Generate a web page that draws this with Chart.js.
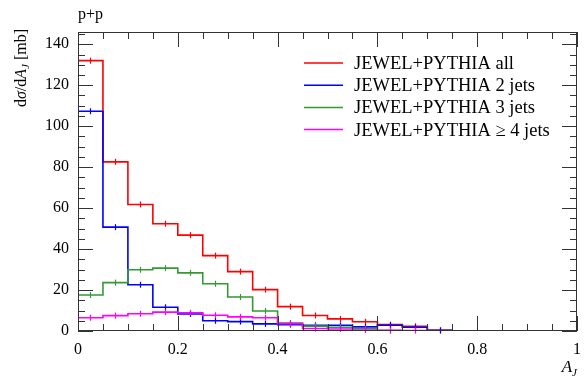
<!DOCTYPE html>
<html>
<head>
<meta charset="utf-8">
<script src="https://cdn.jsdelivr.net/npm/chart.js@4/dist/chart.umd.min.js"></script>
<style>
  html, body { margin: 0; padding: 0; background: #fff; }
  #wrap { width: 584px; height: 378px; }
</style>
</head>
<body>
<div id="wrap"><canvas id="chart" width="584" height="378"></canvas></div>
<script>
// bin edges of the A_J histogram
const binEdges = [0, 0.05, 0.1, 0.15, 0.2, 0.25, 0.3, 0.35, 0.4, 0.45, 0.5,
                  0.55, 0.6, 0.65, 0.7, 0.75, 0.8, 0.85, 0.9, 0.95, 1];

// dsigma/dA_J [mb] per bin
const allJets   = [132, 82.6, 61.8, 52.4, 46.8, 36.8, 29.0, 20.2, 11.9, 7.6,
                   5.9, 4.5, 3.1, 2.3, 0.3, 0, 0, 0, 0, 0];
const twoJets   = [107.3, 50.7, 22.6, 11.6, 8.3, 5.0, 4.6, 3.5, 3.1, 2.8,
                   2.8, 2.0, 2.8, 1.8, 0.3, 0, 0, 0, 0, 0];
const threeJets = [17.6, 23.6, 29.9, 30.7, 28.4, 23.1, 16.6, 9.8, 3.9, 2.4,
                   1.8, 1.2, 0.2, 0, 0, 0, 0, 0, 0, 0];
const fourJets  = [6.5, 7.5, 8.4, 9.2, 8.9, 7.7, 6.9, 6.5, 3.6, 1.2,
                   1.0, 0.5, 0.3, 0.2, 0, 0, 0, 0, 0, 0];

const seriesNames = ['JEWEL+PYTHIA all', 'JEWEL+PYTHIA 2 jets',
                     'JEWEL+PYTHIA 3 jets', 'JEWEL+PYTHIA \u2265 4 jets'];
const seriesColors = ['#ff0000', '#0000ff', '#339933', '#ff00ff'];

const xTicks = [0, 0.2, 0.4, 0.6, 0.8, 1];
const yTicks = [0, 20, 40, 60, 80, 100, 120, 140];

const FONT = '"Liberation Serif", "DejaVu Serif", serif';

// one point per bin edge; the step goes flat first, then up or down
function histPoints(values) {
    return binEdges.map((x, i) => ({ x: x, y: values[Math.min(i, values.length - 1)] }));
}

const seriesValues = [allJets, twoJets, threeJets, fourJets];

// frame, inward ticks and error marks
const framePlugin = {
    id: 'frame',
    afterDatasetsDraw(chart) {
        const ctx = chart.ctx;
        const a = chart.chartArea;
        const xs = chart.scales.x, ys = chart.scales.y;
        ctx.save();
        // small vertical error marks at bin centres
        seriesValues.forEach((vals, k) => {
            ctx.strokeStyle = seriesColors[k];
            ctx.lineWidth = 1.2;
            vals.forEach((v, i) => {
                if (v <= 0) return;
                const cx = xs.getPixelForValue((binEdges[i] + binEdges[i + 1]) / 2);
                const cy = ys.getPixelForValue(v);
                ctx.beginPath();
                ctx.moveTo(Math.round(cx) + 0.5, cy - 3);
                ctx.lineTo(Math.round(cx) + 0.5, cy + 3);
                ctx.stroke();
            });
        });
        ctx.strokeStyle = '#333';
        ctx.lineWidth = 1;
        ctx.strokeRect(a.left + 0.5, a.top + 0.5, a.right - a.left - 1, a.bottom - a.top - 1);
        ctx.beginPath();
        for (let i = 0; i < binEdges.length; i++) {
            const v = binEdges[i];
            const px = Math.round(xs.getPixelForValue(v)) + 0.5;
            const len = xTicks.some(t => Math.abs(t - v) < 1e-9) ? 15 : 7;
            ctx.moveTo(px, a.bottom); ctx.lineTo(px, a.bottom - len);
            ctx.moveTo(px, a.top); ctx.lineTo(px, a.top + len);
        }
        for (let v = 0; v <= ys.max; v += 5) {
            const py = Math.round(ys.getPixelForValue(v)) + 0.5;
            const len = v % 20 === 0 ? 15 : 7;
            ctx.moveTo(a.left, py); ctx.lineTo(a.left + len, py);
            ctx.moveTo(a.right, py); ctx.lineTo(a.right - len, py);
        }
        ctx.stroke();
        ctx.restore();
    },
    afterDraw(chart) {
        const ctx = chart.ctx;
        const a = chart.chartArea;
        ctx.save();
        ctx.fillStyle = '#000';
        ctx.textBaseline = 'alphabetic';

        // top-left label
        ctx.font = '16px ' + FONT;
        ctx.textAlign = 'left';
        ctx.fillText('p+p', a.left, 19);

        // legend
        seriesNames.forEach((name, k) => {
            const ly = 63 + k * 22.2;
            ctx.strokeStyle = seriesColors[k];
            ctx.lineWidth = 1.5;
            ctx.beginPath();
            ctx.moveTo(304, ly); ctx.lineTo(343, ly);
            ctx.stroke();
            ctx.font = '18.5px ' + FONT;
            ctx.fillText(name, 354, ly + 6);
        });

        // x title A_J
        ctx.textAlign = 'left';
        ctx.font = 'italic 11px ' + FONT;
        const jw = ctx.measureText('J').width;
        ctx.font = 'italic 17px ' + FONT;
        const aw = ctx.measureText('A').width;
        const x0 = a.right - jw - aw;
        ctx.fillText('A', x0, 372);
        ctx.font = 'italic 11px ' + FONT;
        ctx.fillText('J', x0 + aw, 376);

        // y title d sigma / d A_J [mb]
        const parts = [
            ['d', '16px', 0], ['\u03c3', 'italic 16px', 0], ['/', '16px', 0],
            ['d', '16px', 0], ['A', 'italic 16px', 0], ['J', 'italic 11px', 3],
            [' [mb]', '16px', 0]
        ];
        let total = 0;
        parts.forEach(p => { ctx.font = p[1] + ' ' + FONT; total += ctx.measureText(p[0]).width; });
        ctx.translate(26, 29);
        ctx.rotate(-Math.PI / 2);
        let u = -total;
        parts.forEach(p => {
            ctx.font = p[1] + ' ' + FONT;
            ctx.fillText(p[0], u, p[2]);
            u += ctx.measureText(p[0]).width;
        });
        ctx.restore();
    }
};

new Chart(document.getElementById('chart'), {
    type: 'line',
    data: {
        datasets: seriesValues.map((vals, k) => ({
            label: seriesNames[k],
            data: histPoints(vals),
            borderColor: seriesColors[k],
            backgroundColor: seriesColors[k],
            borderWidth: 1.6,
            stepped: 'before',
            pointRadius: 0,
            fill: false,
            order: 3 - k
        }))
    },
    options: {
        responsive: false,
        animation: false,
        devicePixelRatio: 1,
        layout: { padding: { top: 32, right: 7, left: 0, bottom: 0 } },
        plugins: { legend: { display: false }, tooltip: { enabled: false } },
        scales: {
            x: {
                type: 'linear', min: 0, max: 1,
                grid: { display: false, drawTicks: false },
                border: { display: false },
                afterBuildTicks: s => { s.ticks = xTicks.map(v => ({ value: v })); },
                afterFit: s => { s.height = 47; s.paddingLeft = 0; s.paddingRight = 0; },
                ticks: {
                    color: '#000', padding: 9, maxRotation: 0,
                    font: { family: FONT, size: 16 },
                    callback: v => String(v)
                }
            },
            y: {
                type: 'linear', min: 0, max: 146,
                grid: { display: false, drawTicks: false },
                border: { display: false },
                afterBuildTicks: s => { s.ticks = yTicks.map(v => ({ value: v })); },
                afterFit: s => { s.width = 78; s.paddingTop = 0; s.paddingBottom = 0; },
                ticks: {
                    color: '#000', padding: 9,
                    font: { family: FONT, size: 16 },
                    callback: v => String(v)
                }
            }
        }
    },
    plugins: [framePlugin]
});
</script>
</body>
</html>
